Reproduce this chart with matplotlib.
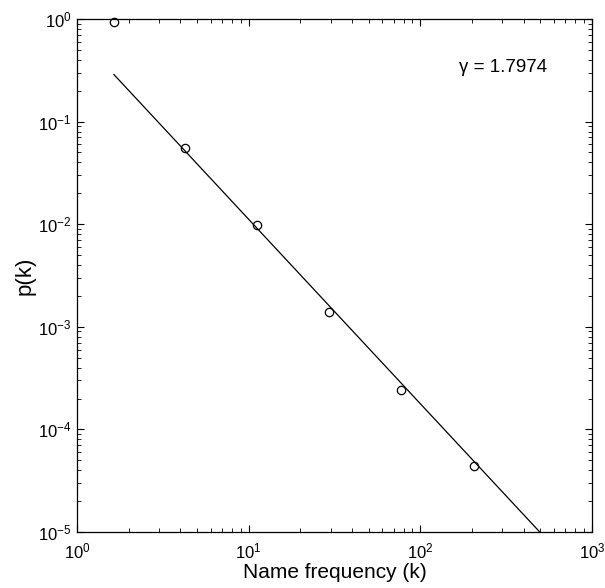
import numpy as np
import matplotlib
matplotlib.use("Agg")
import matplotlib.pyplot as plt
from matplotlib.ticker import LogLocator, NullFormatter

k_values = [1.635, 4.26, 11.2, 29.4, 77.0, 205.0]
p_values = [0.94, 0.055, 0.0098, 0.00139, 0.000242, 0.000044]
gamma = 1.7974
fit_coef = 0.70
fit_x = [1.64, 1000.0]

plt.rcParams['font.family'] = ['Liberation Sans', 'DejaVu Sans']
plt.rcParams['mathtext.fontset'] = 'custom'
plt.rcParams['mathtext.rm'] = 'Liberation Sans'
plt.rcParams['mathtext.it'] = 'Liberation Sans'

W, H = 605, 588
L, R, T, B = 77, 592, 19, 532
fig = plt.figure(figsize=(W/100, H/100), dpi=100)
ax = fig.add_axes([L/W, 1-B/H, (R-L)/W, (B-T)/H])

fx = np.array(fit_x)
ax.plot(fx, fit_coef * fx ** (-gamma), color='black', lw=0.9)
ax.plot(k_values, p_values, linestyle='none', marker='o', markersize=6,
        markerfacecolor='none', markeredgecolor='black', markeredgewidth=0.9,
        clip_on=False)

ax.set_xscale('log')
ax.set_yscale('log')
ax.set_xlim(1, 1000)
ax.set_ylim(1e-5, 1)
ax.xaxis.set_minor_locator(LogLocator(base=10, subs=np.arange(2, 10)))
ax.yaxis.set_minor_locator(LogLocator(base=10, subs=np.arange(2, 10)))
ax.xaxis.set_minor_formatter(NullFormatter())
ax.yaxis.set_minor_formatter(NullFormatter())
ax.tick_params(which='both', direction='in', top=True, right=True, labelsize=12)
ax.tick_params(which='major', length=5, width=0.8)
ax.tick_params(which='minor', length=3, width=0.6)
ax.tick_params(axis='x', which='major', pad=7)
ax.tick_params(axis='y', which='major', pad=4)
for s in ax.spines.values():
    s.set_linewidth(0.9)

ax.set_xlabel('Name frequency (k)', fontsize=15, labelpad=1)
ax.set_ylabel('p(k)', fontsize=16, labelpad=2)
ax.text(0.827, 0.906, 'γ = %.4f' % gamma, transform=ax.transAxes,
        ha='center', va='center', fontsize=13.5)

fig.savefig('out.png', dpi=100)
